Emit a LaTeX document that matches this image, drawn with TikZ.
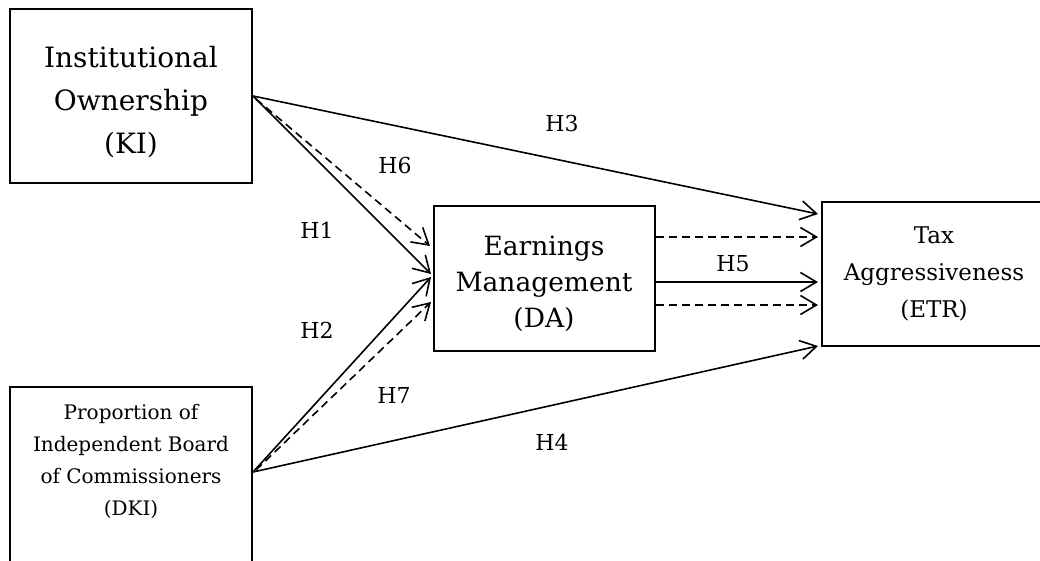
\documentclass[tikz,border=0pt]{standalone}
\usepackage{fontspec}
\setmainfont{DejaVu Serif}
\usetikzlibrary{arrows.meta,calc}
\begin{document}
\begin{tikzpicture}[x=1pt,y=-1pt,
  box/.style={draw, line width=2pt, rectangle, inner sep=0pt},
  txt/.style={align=center, inner sep=0pt},
  arr/.style={line width=1.6pt, -{Straight Barb[length=16pt,width=19pt,line width=1.6pt]}},
  darr/.style={arr, dash pattern=on 8pt off 5pt},
  hlab/.style={font=\fontsize{22}{24}\selectfont, inner sep=1pt}
]
\useasboundingbox (0,0) rectangle (1040,561);
\clip (0,0) rectangle (1040,561);
% boxes
\node[box, minimum width=242pt, minimum height=174pt] (ki) at (131,96) {};
\node[box, minimum width=221pt, minimum height=145pt] (da) at (544.5,278.5) {};
\node[box, minimum width=240pt, minimum height=144pt] (etr) at (942,274) {};
\node[box, minimum width=242pt, minimum height=200pt] (dki) at (131,487) {};
% texts
\node[txt, font=\fontsize{28}{43}\selectfont] (kit) at (131,102) {Institutional\\Ownership\\(KI)};
\node[txt, font=\fontsize{26.5}{36}\selectfont] (dat) at (544,284) {Earnings\\Management\\(DA)};
\node[txt, font=\fontsize{23}{37}\selectfont] (etrt) at (934,274) {Tax\\Aggressiveness\\(ETR)};
\node[txt, font=\fontsize{20}{32}\selectfont] (dkit) at (131,461) {Proportion of\\Independent Board\\of Commissioners\\(DKI)};
% connector points
\coordinate (kis) at (ki.east);
\coordinate (dkis) at ($(dki.north east)+(0,86)$);
% KI arrows
\draw[arr] (kis) -- ($(etr.north west)+(-3,13)$);
\draw[darr] ($(kis)+(3,3)$) -- ($(da.north west)+(-3,41)$);
\draw[arr] (kis) -- ($(da.north west)+(-2,69)$);
% DKI arrows
\draw[arr] (dkis) -- ($(da.north west)+(-2,72)$);
\draw[darr] ($(dkis)+(3,-2)$) -- ($(da.north west)+(-2,97)$);
\draw[arr] (dkis) -- ($(etr.south west)+(-3,-1)$);
% DA to ETR
\draw[darr] ($(da.north east)+(0,32)$) -- ($(etr.north west)+(-3,36)$);
\draw[arr] ($(da.north east)+(0,77)$) -- ($(etr.north west)+(-3,81)$);
\draw[darr] ($(da.north east)+(0,100)$) -- ($(etr.north west)+(-3,104)$);
% labels
\node[hlab] (h3) at (562,123) {H3};
\node[hlab] (h6) at (395,165) {H6};
\node[hlab] (h1) at (317,230) {H1};
\node[hlab] (h5) at (733,264) {H5};
\node[hlab] (h2) at (317,330) {H2};
\node[hlab] (h7) at (394,395) {H7};
\node[hlab] (h4) at (552,442) {H4};
\end{tikzpicture}
\end{document}
